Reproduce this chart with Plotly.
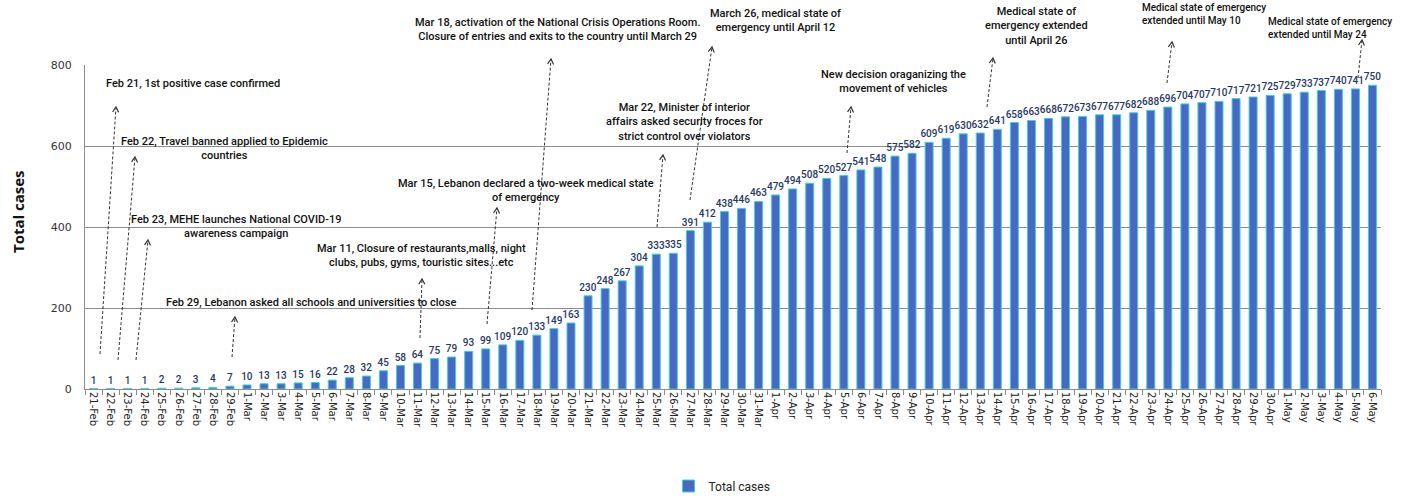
import math
import plotly.graph_objects as go


# ==========================================================
# Data
# ==========================================================

dates = [
    "21-Feb", "22-Feb", "23-Feb", "24-Feb", "25-Feb", "26-Feb", "27-Feb", "28-Feb", "29-Feb",
    "1-Mar", "2-Mar", "3-Mar", "4-Mar", "5-Mar", "6-Mar", "7-Mar", "8-Mar", "9-Mar", "10-Mar",
    "11-Mar", "12-Mar", "13-Mar", "14-Mar", "15-Mar", "16-Mar", "17-Mar", "18-Mar", "19-Mar",
    "20-Mar", "21-Mar", "22-Mar", "23-Mar", "24-Mar", "25-Mar", "26-Mar", "27-Mar", "28-Mar",
    "29-Mar", "30-Mar", "31-Mar",
    "1-Apr", "2-Apr", "3-Apr", "4-Apr", "5-Apr", "6-Apr", "7-Apr", "8-Apr", "9-Apr", "10-Apr",
    "11-Apr", "12-Apr", "13-Apr", "14-Apr", "15-Apr", "16-Apr", "17-Apr", "18-Apr", "19-Apr",
    "20-Apr", "21-Apr", "22-Apr", "23-Apr", "24-Apr", "25-Apr", "26-Apr", "27-Apr", "28-Apr",
    "29-Apr", "30-Apr",
    "1-May", "2-May", "3-May", "4-May", "5-May", "6-May",
]

total_cases = [
    1, 1, 1, 1, 2, 2, 3, 4, 7,
    10, 13, 13, 15, 16, 22, 28, 32, 45, 58,
    64, 75, 79, 93, 99, 109, 120, 133, 149,
    163, 230, 248, 267, 304, 333, 335, 391, 412,
    438, 446, 463,
    479, 494, 508, 520, 527, 541, 548, 575, 582, 609,
    619, 630, 632, 641, 658, 663, 668, 672, 673,
    677, 677, 682, 688, 696, 704, 707, 710, 717,
    721, 725,
    729, 733, 737, 740, 741, 750,
]

y_ticks = [0, 200, 400, 600, 800]

# event notes: text, anchor x (px), centre y (px), font size, horizontal anchor
event_texts = [
    ("Feb 21, 1st positive case confirmed", 193, 83, 11, "center"),
    ("Feb 22, Travel banned applied to Epidemic<br>countries", 224, 148, 11, "center"),
    ("Feb 23, MEHE launches National COVID-19<br>awareness campaign", 236, 226, 11, "center"),
    ("Feb 29, Lebanon asked all schools and universities to close", 311, 302, 11, "center"),
    ("Mar 11, Closure of restaurants,malls, night<br>clubs, pubs, gyms, touristic sites...etc", 421, 256, 11, "center"),
    ("Mar 15, Lebanon declared a two-week medical state<br>of emergency", 526, 190, 11, "center"),
    ("Mar 18, activation of the National Crisis Operations Room.<br>Closure of entries and exits to the country until March 29", 557, 30, 11, "center"),
    ("March 26, medical state of<br>emergency until April 12", 775, 20, 11, "center"),
    ("Mar 22, Minister of interior<br>affairs asked security froces for<br>strict control over violators", 684, 122, 11, "center"),
    ("New decision oraganizing the<br>movement of vehicles", 893, 81, 11, "center"),
    ("Medical state of<br>emergency extended<br>until April 26", 1036, 26, 11, "center"),
    ("Medical state of emergency<br>extended until May 10", 1140, 14, 10, "left"),
    ("Medical state of emergency<br>extended until May 24", 1266, 28, 10, "left"),
]

# arrows: tail (px), head (px)
event_arrows = [
    ((100, 354), (116, 107)),
    ((118, 360), (135, 157)),
    ((136, 360), (148, 240)),
    ((232, 357), (235, 317)),
    ((420, 338), (422, 279)),
    ((487, 324), (497, 208)),
    ((532, 310), (551, 59)),
    ((657, 227), (663, 155)),
    ((690, 200), (712, 47)),
    ((847, 153), (851, 107)),
    ((987, 107), (993, 58)),
    ((1167, 83), (1172, 42)),
    ((1358, 78), (1362, 40)),
]


# ==========================================================
# Geometry helpers (pixel -> paper)
# ==========================================================

W, H = 1402, 497
PX0, PX1, PY0, PY1 = 85, 1381, 65, 389   # plot area


def fx(px):
    return (px - PX0) / (PX1 - PX0)


def fy(py):
    return (PY1 - py) / (PY1 - PY0)


# ==========================================================
# Figure
# ==========================================================

fig = go.Figure(
    go.Bar(
        x=dates,
        y=total_cases,
        name="Total cases",
        marker=dict(color="#4768C4", line=dict(color="#3CD2D8", width=1)),
        text=total_cases,
        textposition="outside",
        constraintext="none",
        textfont=dict(family="Roboto, sans-serif", size=10, color="#1F3864", weight=500),
        cliponaxis=False,
    )
)

shapes = []
for (tx, ty), (hx, hy) in event_arrows:
    shapes.append(dict(
        type="line", xref="paper", yref="paper",
        x0=fx(tx), y0=fy(ty), x1=fx(hx), y1=fy(hy),
        line=dict(color="#333333", width=1, dash="3px,2px"),
    ))
    # open chevron head, drawn in pixels around the head point
    dx, dy = hx - tx, -(hy - ty)
    n = math.hypot(dx, dy)
    ux, uy = dx / n, dy / n
    pts = []
    for a in (math.radians(30), -math.radians(30)):
        bx = -(ux * math.cos(a) - uy * math.sin(a)) * 6
        by = -(ux * math.sin(a) + uy * math.cos(a)) * 6
        pts.append((bx, by))
    shapes.append(dict(
        type="path", xref="paper", yref="paper",
        xsizemode="pixel", ysizemode="pixel",
        xanchor=fx(hx), yanchor=fy(hy),
        path="M %.2f,%.2f L 0,0 L %.2f,%.2f" % (pts[0][0], pts[0][1], pts[1][0], pts[1][1]),
        line=dict(color="#333333", width=1.2),
    ))

annotations = []
for text, cx, cy, size, anchor in event_texts:
    annotations.append(dict(
        text=text, xref="paper", yref="paper", x=fx(cx), y=fy(cy),
        xanchor=anchor, yanchor="middle", showarrow=False, align=anchor,
        font=dict(family="Roboto, sans-serif", size=size, color="#111111", weight=500),
    ))

annotations.append(dict(
    text="<b>Total cases</b>", xref="paper", yref="paper", x=fx(18), y=fy(212),
    xanchor="center", yanchor="middle", textangle=-90, showarrow=False,
    font=dict(family="Open Sans, sans-serif", size=15, color="#111111"),
))

fig.update_layout(
    width=W,
    height=H,
    margin=dict(l=PX0, r=W - PX1, t=PY0, b=H - PY1, autoexpand=False),
    plot_bgcolor="white",
    paper_bgcolor="white",
    bargap=0.53,
    showlegend=True,
    legend=dict(
        orientation="h", x=fx(722), xanchor="center", y=fy(486), yanchor="middle",
        font=dict(family="Roboto, sans-serif", size=12, color="#222222"),
        itemwidth=30,
    ),
    shapes=shapes,
    annotations=annotations,
)

fig.update_xaxes(
    type="category",
    tickangle=90,
    tickfont=dict(family="DejaVu Sans, sans-serif", size=10, color="#222222"),
    showline=True, linecolor="#8C8C8C", linewidth=1,
    ticks="outside", tickson="boundaries", ticklen=5, tickcolor="#8C8C8C",
    showgrid=False,
)

fig.update_yaxes(
    range=[0, 800],
    tickvals=y_ticks,
    tickfont=dict(family="DejaVu Sans, sans-serif", size=11, color="#333333"),
    showline=True, linecolor="#8C8C8C", linewidth=1,
    gridcolor="#8C8C8C", gridwidth=1,
    ticklabelstandoff=10,
    zeroline=False,
)

# the page body keeps its default 8px margin; drop it so the figure fills the window
fig.write_html(
    "out.html",
    config={"displayModeBar": False},
    post_script="document.body.style.margin = '0';",
)
